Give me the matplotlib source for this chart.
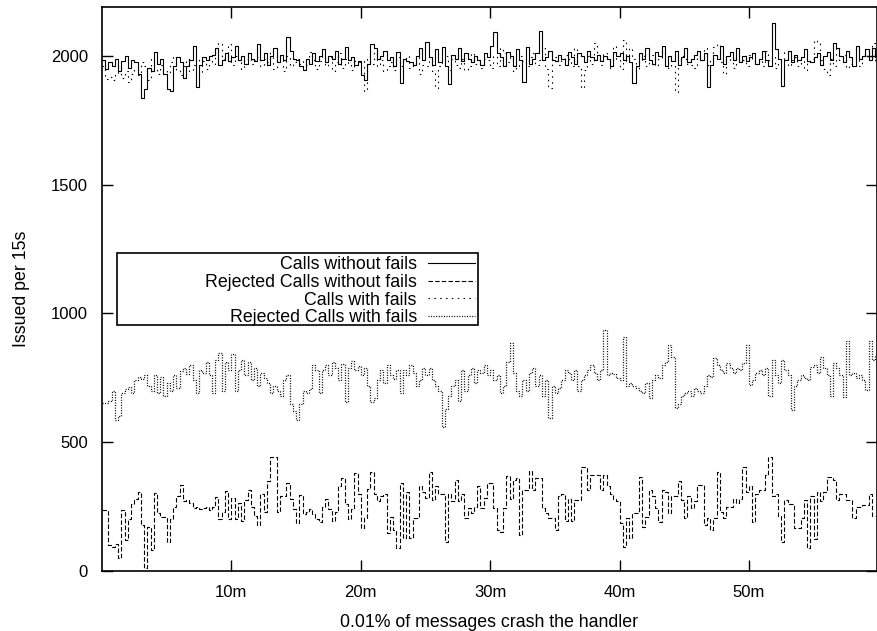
import matplotlib
matplotlib.use("Agg")
import matplotlib.pyplot as plt
from matplotlib.patches import Rectangle
import numpy as np

plt.rcParams['font.family'] = ['Liberation Sans', 'DejaVu Sans']
plt.rcParams['lines.scale_dashes'] = False

step_minutes = 0.25  # 15 s samples

calls_without_fails = [
    1985, 1950, 1975, 1960, 1990, 1940, 1980, 2000, 1955, 1985, 1975, 1930, 1835, 1870, 1955, 1940, 2015, 1970, 1990, 1930,
    1870, 1865, 1960, 1995, 1975, 1915, 1960, 1985, 2040, 1880, 1965, 1995, 1985, 2000, 2005, 2030, 1965, 1985, 2010, 1980,
    1995, 2040, 1985, 2000, 1970, 2010, 1990, 1980, 2045, 1985, 2010, 1965, 2000, 2030, 1975, 2005, 1985, 2073, 2020, 1990,
    1985, 1960, 1945, 1990, 1970, 2010, 1980, 2000, 2025, 1975, 2000, 1990, 2020, 1970, 1990, 2035, 1985, 1995, 1965, 1980,
    1925, 1907, 1970, 2045, 2030, 1990, 2000, 2020, 1985, 1995, 1960, 2015, 1895, 1990, 1980, 1975, 1965, 2000, 2030, 1985,
    2055, 1995, 1965, 2025, 1975, 2035, 1960, 1890, 2005, 1990, 2030, 1980, 2010, 1990, 1975, 2000, 1985, 1965, 2010, 1995,
    2040, 2093, 2010, 1995, 1960, 2015, 2000, 1960, 2025, 1985, 1900, 2035, 1970, 1990, 2010, 2097, 1985, 1995, 2020, 1985,
    1980, 2005, 1990, 1965, 2015, 1995, 1970, 2010, 2000, 1975, 2020, 1995, 1985, 2005, 1980, 2000, 1990, 1960, 2015, 2000,
    2010, 1985, 2000, 1975, 1895, 1960, 2010, 1990, 2030, 1985, 1970, 2015, 2000, 2040, 1960, 2000, 1980, 2020, 1965, 1995,
    2030, 1975, 1990, 2005, 2020, 1985, 2010, 1880, 1965, 2005, 1990, 2040, 1970, 2000, 2015, 1985, 2030, 1975, 2000, 1980,
    1995, 2010, 1970, 1990, 2020, 1985, 1960, 2128, 2025, 1990, 1883, 1985, 2020, 1975, 2005, 1985, 1995, 2025, 1980, 1975,
    1995, 2010, 1965, 2000, 2015, 1985, 2050, 2030, 2000, 1975, 2020, 1995, 1960, 2040, 1990, 2000, 2025, 1985, 2030, 1995,
]

rejected_without_fails = [
    237, 237, 100, 95, 105, 50, 237, 120, 200, 260, 280, 307, 178, 12, 170, 82, 303, 225, 210, 210,
    113, 200, 250, 290, 334, 270, 275, 265, 245, 250, 240, 245, 250, 235, 250, 289, 200, 230, 312, 200,
    283, 200, 264, 195, 275, 315, 250, 215, 180, 300, 230, 350, 443, 443, 230, 290, 290, 342, 280, 240,
    186, 295, 220, 230, 240, 220, 200, 190, 250, 280, 240, 195, 230, 330, 361, 260, 200, 240, 380, 300,
    167, 205, 317, 384, 300, 270, 290, 300, 147, 210, 160, 89, 342, 130, 305, 130, 205, 205, 330, 305,
    285, 384, 275, 330, 300, 300, 113, 300, 270, 353, 270, 300, 205, 245, 225, 250, 330, 245, 285, 342,
    342, 245, 160, 151, 245, 369, 280, 353, 361, 140, 315, 315, 388, 315, 361, 361, 245, 225, 205, 205,
    159, 290, 300, 195, 280, 195, 275, 275, 404, 404, 315, 373, 373, 373, 315, 373, 330, 300, 280, 270,
    186, 93, 205, 128, 225, 225, 365, 170, 210, 315, 290, 245, 190, 315, 305, 225, 290, 290, 350, 275,
    205, 290, 245, 270, 334, 334, 180, 205, 159, 205, 384, 230, 205, 250, 250, 280, 265, 280, 404, 305,
    330, 190, 300, 315, 315, 373, 443, 290, 300, 215, 113, 275, 260, 260, 167, 167, 205, 275, 89, 290,
    124, 305, 270, 305, 365, 365, 353, 275, 300, 300, 275, 275, 205, 250, 250, 255, 255, 300, 215, 215,
]

calls_with_fails = [
    1960, 1910, 1920, 1905, 1935, 1960, 1915, 1940, 1900, 1930, 1950, 1925, 1975, 1960, 1905, 1990, 1955, 1930, 1965, 1945,
    1935, 1975, 2000, 1945, 1925, 1960, 1990, 1940, 1965, 1990, 1935, 1980, 1950, 2000, 1970, 2030, 2050, 1990, 1985, 2045,
    1965, 2000, 1975, 1950, 1990, 2015, 1970, 1985, 1995, 1960, 1990, 1975, 2020, 1950, 2005, 1985, 1940, 2000, 1960, 1975,
    1990, 1970, 1990, 1965, 2015, 1985, 1950, 1980, 2000, 1960, 1995, 1940, 1975, 2010, 1955, 1990, 1970, 1945, 1980, 1975,
    1980, 1865, 1990, 1970, 2015, 1960, 1985, 1940, 1960, 1975, 1945, 1995, 1960, 1990, 2000, 1955, 1970, 2000, 1930, 1965,
    1960, 1990, 1940, 1875, 1960, 1985, 2000, 1945, 1990, 1965, 1955, 1990, 1945, 1960, 2010, 1970, 1985, 1955, 1990, 1985,
    1955, 2000, 1960, 2030, 2010, 1975, 1995, 1940, 1960, 2000, 1980, 1960, 1995, 2010, 1965, 1985, 2030, 1950, 1875, 1990,
    1995, 1965, 1985, 2005, 1990, 1960, 2030, 1960, 1875, 1945, 2000, 1970, 2050, 1985, 1965, 2010, 1990, 1955, 2040, 1990,
    1950, 2060, 1975, 2030, 1990, 1945, 1985, 2000, 1960, 1975, 2005, 1960, 1990, 2020, 1985, 1955, 1990, 1860, 1975, 2000,
    1990, 1970, 1965, 1955, 2000, 1985, 2030, 1965, 1990, 2035, 2045, 1975, 1930, 1980, 1995, 1955, 2000, 1975, 1985, 1960,
    2005, 1980, 1970, 1990, 1960, 2020, 1985, 2000, 1955, 1975, 1990, 2015, 1960, 1985, 1995, 1960, 1980, 1945, 1975, 1990,
    2060, 2050, 1985, 1950, 1925, 1990, 1960, 2035, 1985, 2005, 1955, 1970, 1995, 1985, 1960, 2000, 2025, 1990, 2050, 1975,
]

rejected_with_fails = [
    652, 652, 660, 700, 586, 600, 690, 705, 715, 690, 740, 755, 745, 760, 720, 700, 760, 690, 755, 680,
    730, 700, 760, 710, 775, 790, 765, 800, 740, 690, 780, 770, 810, 760, 690, 820, 846, 700, 810, 780,
    842, 700, 780, 820, 760, 810, 740, 790, 720, 770, 750, 730, 690, 720, 700, 680, 740, 760, 650, 620,
    586, 650, 700, 690, 705, 800, 780, 690, 780, 800, 760, 810, 790, 740, 805, 656, 790, 815, 780, 795,
    760, 790, 720, 656, 670, 740, 780, 730, 800, 760, 745, 780, 690, 780, 760, 800, 770, 720, 740, 790,
    760, 790, 740, 720, 700, 560, 630, 680, 720, 740, 660, 780, 700, 760, 790, 730, 780, 770, 800, 760,
    780, 740, 760, 690, 720, 810, 885, 770, 700, 680, 740, 700, 770, 790, 720, 760, 680, 740, 594, 720,
    690, 710, 740, 780, 770, 740, 780, 700, 740, 760, 780, 800, 770, 740, 780, 936, 760, 770, 765, 750,
    740, 910, 720, 730, 720, 710, 700, 690, 730, 672, 740, 760, 750, 800, 810, 878, 830, 633, 650, 680,
    690, 700, 680, 710, 700, 690, 720, 760, 753, 827, 800, 780, 770, 808, 790, 770, 790, 780, 808, 878,
    722, 740, 770, 780, 760, 790, 680, 820, 760, 730, 820, 780, 760, 625, 720, 740, 760, 750, 740, 792,
    800, 770, 830, 790, 760, 680, 808, 790, 760, 676, 893, 760, 770, 750, 760, 740, 703, 893, 820, 839,
]

series_labels = ["Calls without fails", "Rejected Calls without fails",
                 "Calls with fails", "Rejected Calls with fails"]
x_ticks = [10, 20, 30, 40, 50]
x_tick_labels = ["10m", "20m", "30m", "40m", "50m"]
y_ticks = [0, 500, 1000, 1500, 2000]

W, H = 877, 631
fig = plt.figure(figsize=(W / 100, H / 100), dpi=100)
ax = fig.add_axes([102 / W, 60 / H, 775 / W, 564 / H])

styles = [
    dict(linestyle='-', linewidth=0.8),
    dict(linestyle=(0, (3.2, 1.6)), linewidth=0.8),
    dict(linestyle=(0, (1.1, 3.1)), linewidth=0.8),
    dict(linestyle=(0, (0.75, 1.1)), linewidth=0.9),
]
data = [calls_without_fails, rejected_without_fails, calls_with_fails, rejected_with_fails]
for vals, lab, st in zip(data, series_labels, styles):
    xs = np.arange(len(vals)) * step_minutes
    ax.plot(xs, vals, drawstyle='steps-post', color='black', label=lab, **st)

ax.set_xlim(0, 59.9)
ax.set_ylim(0, 2190)
ax.set_xticks(x_ticks)
ax.set_xticklabels(x_tick_labels)
ax.set_yticks(y_ticks)
ax.tick_params(direction='in', length=8, width=1, top=True, right=True,
               labelsize=12, pad=10)
for sp in ax.spines.values():
    sp.set_linewidth(1.2)

ax.set_xlabel("0.01% of messages crash the handler", fontsize=12.8, labelpad=10)
ax.set_ylabel("Issued per 15s", fontsize=12.8, labelpad=15)

# legend box (wide, gnuplot style)
box = Rectangle((117 / W, 1 - 325 / H), 361 / W, 72 / H, transform=fig.transFigure,
                facecolor='white', edgecolor='black', linewidth=1.2, zorder=4,
                clip_on=False)
ax.add_patch(box)

leg = ax.legend(loc='upper right', bbox_to_anchor=(475 / W, 1 - 256 / H),
                bbox_transform=fig.transFigure, borderaxespad=0, borderpad=0,
                markerfirst=False, frameon=False, fontsize=12.8,
                handlelength=2.65, labelspacing=0.045, handletextpad=0.62)
leg.set_zorder(5)

fig.savefig("out.png", dpi=100)
